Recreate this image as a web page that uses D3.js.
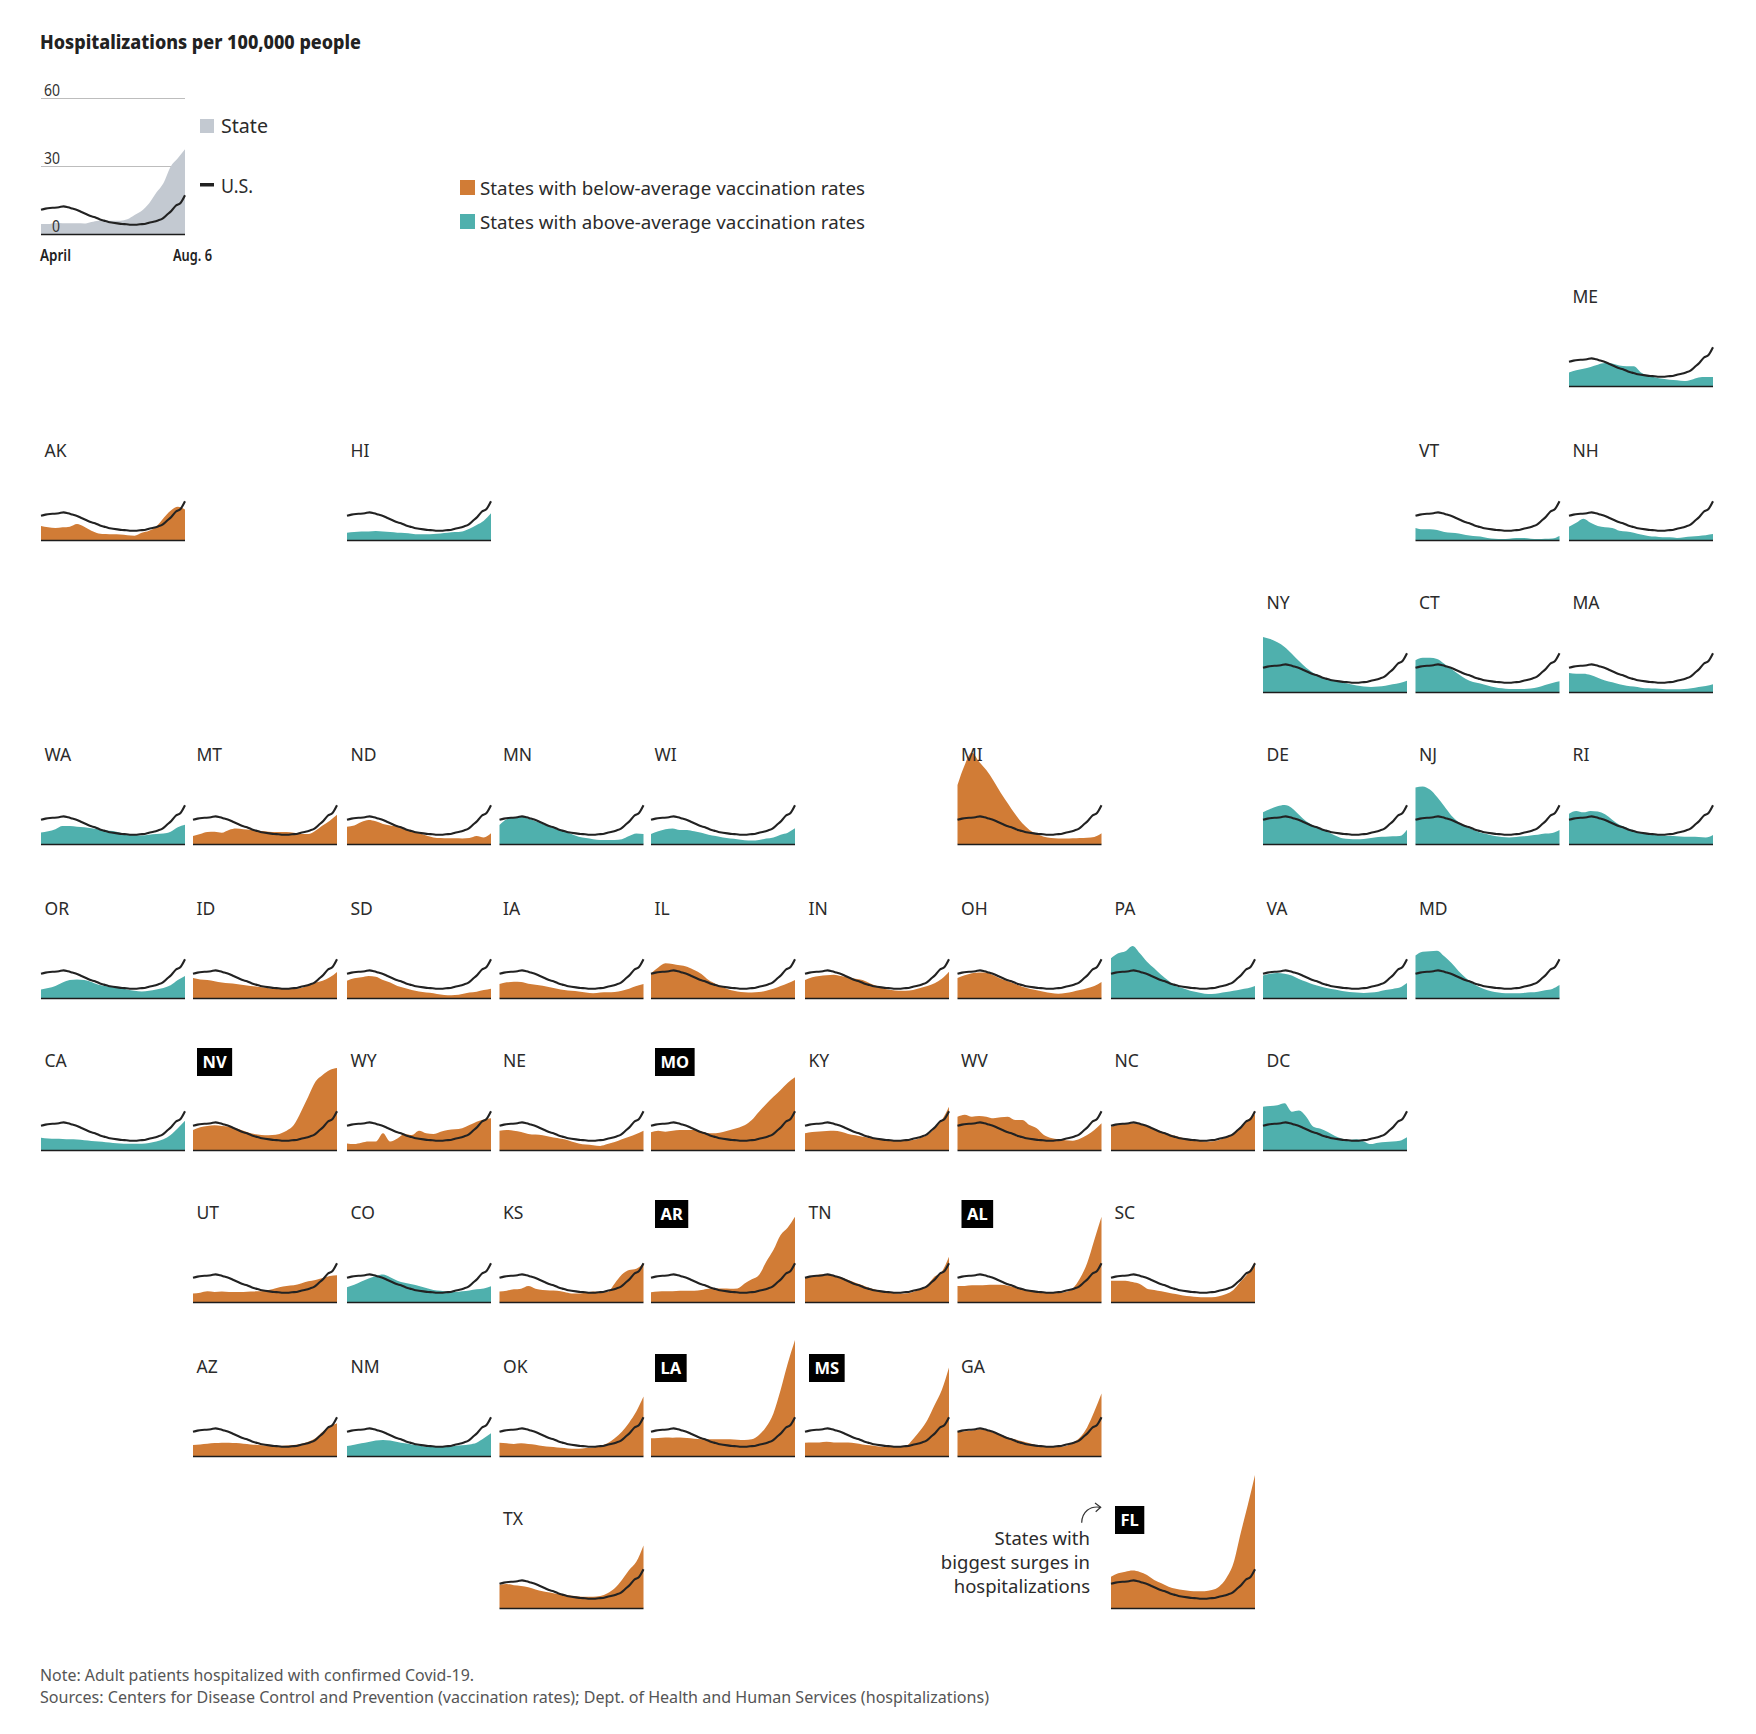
<!DOCTYPE html>
<html><head><meta charset="utf-8">
<script src="https://cdnjs.cloudflare.com/ajax/libs/d3/7.8.5/d3.min.js"></script>
<style>
html,body{margin:0;padding:0;background:#fff}
svg{display:block}
text{font-family:"Noto Sans",sans-serif;fill:#2b2b2b}
</style></head><body>
<svg id="c" width="1756" height="1734"></svg>
<script>
// ---------- DATA (hospitalizations per 100,000) ----------
const US=[10.7,11.2,11.5,11.6,11.8,12.2,11.8,11.2,10.6,9.7,8.8,7.9,7.4,6.5,5.9,5.3,5,4.7,4.4,4.3,4.1,4.1,4.3,4.4,5,5.4,6,6.8,8.5,10.3,12.6,13.7,17.1];
const SAMPLE=[4.4,4.4,5,4.7,4.7,4.7,4.6,5.3,5.9,5.9,5.9,5.9,6.5,8.4,10.3,13.5,18.2,22.4,29.7,33.4,37.4];
const ME=[6,6.9,7.6,8.4,9.4,10.1,9.9,9,8.7,8.7,6,4.4,3.8,3.2,2.8,2.5,2.2,2.8,3.8,4,4];
const AK=[6.2,5.6,5.3,5.6,5.9,7.1,5.9,4.1,2.9,2.6,2.5,2.4,2.1,1.9,3.2,4.1,5.9,9.6,12.9,14.7,13.5];
const HI=[3.2,3.5,3.7,3.7,4,3.7,3.5,3.2,3.1,2.8,2.5,2.5,2.6,2.9,3.2,3.5,3.8,5,6.6,8.5,11.8];
const VT=[5.3,4.7,4.7,4.4,3.5,3.2,2.9,2.2,1.8,1.5,.9,.6,.4,.6,.9,.9,.6,.4,.6,.7,1.8];
const NH=[5.9,7.6,9.4,7.6,6.2,5.6,5.3,4.1,3.8,3.2,2.4,1.8,1.5,1.2,1.2,.9,1.2,1.5,1.8,2.1,2.6];
const NY=[24.3,23.4,21.9,19.9,16.9,13.7,10.7,8.4,6.9,5.7,5,4.3,3.5,2.9,2.4,2.2,2.4,2.8,3.4,4,5];
const CT=[14,15.1,15.1,14.6,12.5,10.1,7.8,5.7,4.4,3.7,2.9,2.1,1.6,1.3,1.3,1.3,1.5,2.1,3.1,4,4.7];
const MA=[8.4,8.1,8.1,7.5,6.3,5.1,4.3,3.4,2.8,2.4,1.9,1.6,1.5,1.3,1.2,1.2,1.3,1.6,2.2,2.6,3.4];
const WA=[5.1,5.6,6.5,7.9,7.9,7.6,7.4,6.9,6.5,6,5.7,5,4.4,4,3.8,4.1,4.4,4.6,5.4,7.4,8.5];
const MT=[3.5,4.4,5.3,5.4,5,6.2,6.8,6.5,6.2,5.9,5.6,5.3,5.3,5.3,5,4.4,4.4,5.9,8.2,10.3,12.9];
const ND=[7.6,8.2,9.7,10.6,10,8.8,8.2,7.6,6.5,5.6,4.7,3.8,2.9,2.6,2.5,2.5,2.4,2.6,3.5,2.9,4.7];
const MN=[8.4,10.9,11.8,12.1,11.2,10,8.8,7.6,6.5,5.6,4.4,3.2,2.6,2.1,1.8,1.8,1.8,2.1,3.5,4.6,4.4];
const WI=[4.4,5.6,6.5,6.8,6.2,6.2,5.6,5,4.1,3.5,2.9,2.4,2.1,1.6,1.5,1.8,2.4,2.9,4.1,5,6.9];
const MI=[26,34.9,40.3,36.3,32.6,27.9,22.6,17.9,13.2,9.1,6.2,4.4,3.2,2.6,2.4,2.4,2.5,2.6,2.8,3.1,4.7];
const DE=[14,15.4,16.6,17.2,15.9,12.9,10,8.1,6.6,5.4,3.7,2.5,2.2,2.1,2.2,2.6,3.1,3.2,3.4,3.5,6.3];
const NJ=[24.9,25.4,24,20.7,16.6,12.5,9.6,7.6,6.3,5.1,4.3,3.5,3.1,2.9,3.1,3.4,3.8,4.1,4.6,4.9,6.2];
const RI=[13.4,14.6,14,14.6,14.3,13.1,10.7,8.5,7.2,6,4.9,4.3,4,3.7,3.5,3.4,3.2,3.2,3.1,2.9,4];
const OR=[3.8,4.4,5.3,6.8,7.9,8.2,7.9,7.1,5.9,5.3,4.7,4.4,3.8,3.2,2.9,3.2,3.8,4.4,5.6,7.9,9.7];
const ID=[8.8,8.2,7.9,7.4,6.8,6.5,6.2,5.7,5.3,5,4.6,4.1,4.1,4,4.1,4.4,5.6,6.8,7.6,9.1,11.5];
const SD=[7.6,8.7,9.1,9.7,9.4,7.9,6.8,5.3,4.4,3.5,2.9,2.4,2.1,1.5,1.2,1.3,1.8,2.4,2.8,3.5,4.1];
const IA=[6.2,6.9,7.2,7.1,6.3,5.9,5.4,4.7,4.1,3.5,3.2,2.9,2.4,2.1,2.4,2.5,2.6,3.2,4.1,5.3,6.2];
const IL=[10.9,13.5,15.3,15,14.4,13.8,12.4,10.6,7.9,6.2,4.7,3.5,2.9,2.5,2.4,2.6,3.2,4.1,5.3,6.5,7.9];
const IN=[7.9,9.1,9.7,10,10.3,9.7,9.1,8.5,7.9,6.5,5.3,4.1,3.5,3.2,3.2,3.5,4.4,5.3,6.5,8.5,11.6];
const OH=[8.8,10,10.9,11.3,11.2,10,8.5,7.4,6.2,5,4.1,3.4,2.8,2.2,1.9,2.2,2.8,3.5,4.3,5.3,7.1];
const PA=[17.5,19.7,20.6,22.9,19.7,16,13.1,10.1,7.6,5.3,4.3,3.2,2.5,1.9,1.8,2.1,2.6,3.2,3.8,4.3,5.3];
const VA=[9.9,10.7,11,10.7,9.9,8.4,7.2,6,5.1,4.3,3.7,3.1,2.6,2.4,2.2,2.4,2.8,3.5,4,4.6,6.6];
const MD=[18.7,20.4,20.6,20.9,18.4,15.4,11.8,8.8,6.3,4.6,3.4,2.6,2.2,2.1,2.1,2.2,2.5,2.8,3.4,4,5.7];
const CA=[5.4,5.1,5,4.9,4.7,4.6,4.3,4,3.7,3.4,3.1,2.9,2.8,2.8,2.8,3.1,3.7,4.7,6.6,9.6,12.9];
const NV=[8.8,10,10.6,10.9,10.6,10.3,9.6,8.5,7.4,6.8,6.5,6.6,7.1,8.5,11,16.9,23.5,30.1,33.1,35.3,36.2];
const WY=[2.9,2.6,3.2,3.7,3.7,7.4,3.7,5.1,7.1,6.6,8.5,7.4,7.1,8.1,8.8,9.1,9.6,11,12.5,13.5,14];
const NE=[8.5,8.8,8.5,7.9,7.1,6.8,6.5,5.9,5.3,4.7,3.8,2.9,2.4,2.1,1.8,2.6,3.5,4.7,5.9,7.1,8.5];
const MO=[7.8,8.5,8.1,8.5,8.8,8.8,8.8,8.2,7.4,7.4,7.9,8.8,9.7,10.9,13.2,16.9,20.3,23.5,26.5,29.7,32.1];
const KY=[7.4,7.9,8.2,8.4,8.5,8.1,7.1,6.5,5.9,5.4,5,4.6,4.3,4.1,4.1,4.4,5.3,6.6,9.6,13.2,19.1];
const WV=[14.7,15.6,14.7,15,14.7,14,14.4,14.7,13.2,13.2,11,9.6,6.6,5.3,4.7,4.3,4.1,5,6.6,8.8,11.8];
const NC=[10.3,11.2,11.8,11.8,11.5,10.6,9.4,8.2,7.1,6.2,5.3,4.7,4.3,3.8,3.8,4.4,5.6,7.4,9.7,13.2,15.9];
const DC=[19.1,19.4,19.7,20.6,16.9,17.4,14.7,10.3,9.4,7.9,6.2,5,4.4,4.7,3.8,2.6,3.2,3.5,3.8,4.1,5.6];
const UT=[3.8,4.1,4.7,4.4,4.6,4.4,4.4,4.4,4.6,4.7,5,5.6,6.5,7.1,7.4,8.2,9.1,9.7,10.6,11.5,11.8];
const CO=[6.5,7.6,9,10.4,11.5,12.1,10.9,9.4,8.5,7.8,7.1,6.2,5.3,5,4.6,4.4,4.7,5.1,5.6,6,6.9];
const KS=[4.6,5,5.6,5.9,7.1,5.9,5.3,5.1,5,4.4,3.8,3.8,4.1,4.6,4.3,4.4,8.2,12.1,14.1,14.7,17.1];
const AR=[4.3,4.6,4.7,4.7,5,5,5,5.3,5.9,6,6,5.9,6,8.2,10,11.9,17.8,22.9,29.6,32.9,37.6];
const TN=[10.9,11.5,12.1,12.4,11.5,10.9,9.7,8.5,7.4,6.2,5.3,4.6,4.1,3.8,3.8,4.4,5.6,7.5,11.2,13.4,20];
const AL=[7.1,7.1,7.4,7.4,7.5,7.6,7.6,7.2,6.5,5.6,5,4.6,4.3,4,4,4.4,6,10.4,17.1,27.4,37.6];
const SC=[9.4,9.4,9.4,8.8,7.9,5.9,5.3,4.7,4.1,3.5,2.9,2.5,2.2,2.1,2.1,2.5,3.5,5.3,9,12.6,17.6];
const AZ=[4.9,5.1,5.4,5.7,5.9,5.9,5.7,5.4,5.1,4.9,4.6,4.4,4.4,4.6,4.9,5.3,6.3,7.8,10.7,12.9,14.4];
const NM=[4.4,5,5.6,6.2,6.8,7.1,6.8,6.2,5.6,5.1,4.6,4.1,4,4,4.1,4.4,4.7,5.1,5.9,7.8,10];
const OK=[5.9,5.6,5.3,5.6,5.3,5,4.4,4.1,3.8,3.5,3.2,3.2,3.5,3.8,4.4,5.6,7.8,10.7,14.7,19.6,26.2];
const LA=[7.8,7.9,8.2,8.1,8.2,7.9,7.6,7.4,7.4,7.4,7.4,7.4,7.2,7.1,7.4,9.3,12.9,18.8,29.1,40.9,51.2];
const MS=[5.9,6,6,6.3,6,6,6,5.6,5.1,4.7,4.3,4,4,4,4.4,7.4,11.2,15.9,22.5,29.1,39];
const GA=[10.7,10.9,11.2,11.8,11.5,10.3,9.4,8.2,7.4,6.5,5.6,4.7,4.3,4,4,4.4,5.9,8.2,12.6,19.6,27.6];
const TX=[10.3,10.6,10,9.7,9.1,8.2,7.4,6.8,6.2,5.7,5.4,5.1,5,5,5.3,6.5,8.7,12.4,16.8,20.4,27.6];
const FL=[13.8,15.3,16,16.5,15.9,14.6,12.4,10.9,9.4,8.5,7.9,7.5,7.4,7.4,7.9,9.4,13.1,19.7,32.9,45.4,58.7];

const aboveAverage=["ME","HI","VT","NH","NY","CT","MA","WA","MN","WI","DE","NJ","RI","OR","PA","VA","MD","CA","DC","CO","NM"];
const biggestSurges=["NV","MO","AR","AL","LA","MS","FL"];
const tileRows=[
 [["ME",ME,10]],
 [["AK",AK,0],["HI",HI,2],["VT",VT,9],["NH",NH,10]],
 [["NY",NY,8],["CT",CT,9],["MA",MA,10]],
 [["WA",WA,0],["MT",MT,1],["ND",ND,2],["MN",MN,3],["WI",WI,4],["MI",MI,6],["DE",DE,8],["NJ",NJ,9],["RI",RI,10]],
 [["OR",OR,0],["ID",ID,1],["SD",SD,2],["IA",IA,3],["IL",IL,4],["IN",IN,5],["OH",OH,6],["PA",PA,7],["VA",VA,8],["MD",MD,9]],
 [["CA",CA,0],["NV",NV,1],["WY",WY,2],["NE",NE,3],["MO",MO,4],["KY",KY,5],["WV",WV,6],["NC",NC,7],["DC",DC,8]],
 [["UT",UT,1],["CO",CO,2],["KS",KS,3],["AR",AR,4],["TN",TN,5],["AL",AL,6],["SC",SC,7]],
 [["AZ",AZ,1],["NM",NM,2],["OK",OK,3],["LA",LA,4],["MS",MS,5],["GA",GA,6]],
 [["TX",TX,3],["FL",FL,7]]
];
const yTicks=[0,30,60];
const dayMax=128;

// ---------- LAYOUT ----------
const colLeft=[41,193,347,499.5,651,805,957.5,1111,1263,1415.5,1569];
const rowBase=[386,540,692,844,998,1150,1302,1456,1608];
const W=144, pxPer30=68;
const ORANGE="#d17c36", TEAL="#4fb0ad", GRAY="#c3c9d1", INK="#222";

const svg=d3.select("#c");
const x=d3.scaleLinear().domain([0,dayMax]).range([0,W]);
const y=d3.scaleLinear().domain([0,30]).range([0,-pxPer30]);
const dayOf=(i,a)=>i*dayMax/(a.length-1);
const area=d3.area().x((d,i,a)=>x(dayOf(i,a))).y0(y(0)).y1(d=>y(d)).curve(d3.curveMonotoneX);
const line=d3.line().x((d,i,a)=>x(dayOf(i,a))).y(d=>y(d)).curve(d3.curveMonotoneX);

function panel(g,values,color){
  g.append("path").attr("d",area(values)).attr("fill",color);
  g.append("line").attr("x1",x(0)).attr("x2",x(dayMax)).attr("y1",0.5).attr("y2",0.5)
    .attr("stroke","#1c1c1c").attr("stroke-width",1.5);
  g.append("path").attr("d",line(US)).attr("fill","none").attr("stroke",INK)
    .attr("stroke-width",2.1).attr("stroke-linejoin","round");
}
function txt(sel,s,xp,yp,size,opt={}){
  const t=sel.append("text").attr("x",xp).attr("y",yp).attr("font-size",size).text(s);
  if(opt.weight)t.attr("font-weight",opt.weight);
  if(opt.anchor)t.attr("text-anchor",opt.anchor);
  if(opt.fill)t.style("fill",opt.fill);
  if(opt.len)t.attr("textLength",opt.len).attr("lengthAdjust","spacingAndGlyphs");
  return t;
}

// Title
txt(svg,"Hospitalizations per 100,000 people",40,49,19,{weight:800,len:321,fill:"#222"});

// Sample panel
const ins=svg.append("g").attr("transform","translate(41,234)");
const yAxis=d3.axisLeft(y).tickValues(yTicks.slice(1)).tickSize(-W).tickFormat("");
ins.append("g").call(yAxis).call(g=>g.select(".domain").remove())
   .call(g=>g.selectAll(".tick line").attr("stroke","#bdbdbd").attr("stroke-width",1));
panel(ins,SAMPLE,GRAY);
yTicks.forEach(v=>txt(ins,String(v),19,y(v)-2,16,{anchor:"end",len:v?16:8,fill:"#333"}));
txt(svg,"April",40,261,16,{weight:600,len:31,fill:"#222"});
txt(svg,"Aug. 6",173,261,16,{weight:600,len:39,fill:"#222"});

// Key
svg.append("rect").attr("x",200).attr("y",119).attr("width",14).attr("height",14).attr("fill",GRAY);
txt(svg,"State",221,132.5,19,{len:47});
svg.append("rect").attr("x",200).attr("y",183).attr("width",14).attr("height",3.5).attr("fill",INK);
txt(svg,"U.S.",221,192.5,19,{len:32});

svg.append("rect").attr("x",460).attr("y",180).attr("width",15).attr("height",15).attr("fill",ORANGE);
txt(svg,"States with below-average vaccination rates",480,194.5,18.5,{len:385});
svg.append("rect").attr("x",460).attr("y",214).attr("width",15).attr("height",15).attr("fill",TEAL);
txt(svg,"States with above-average vaccination rates",480,228.5,18.5,{len:385});

// Tiles
tileRows.forEach((row,r)=>row.forEach(([name,vals,c])=>{
  const g=svg.append("g").attr("transform",`translate(${colLeft[c]},${rowBase[r]})`);
  panel(g,vals,aboveAverage.includes(name)?TEAL:ORANGE);
  if(biggestSurges.includes(name)){
    const b=g.append("rect").attr("x",4).attr("y",-102).attr("height",28).attr("fill","#000");
    const t=txt(g,name,9.5,-82.5,16.5,{weight:700,fill:"#fff"});
    b.attr("width",t.node().getComputedTextLength()+11);
  } else {
    txt(g,name,3.5,-83,17.5,{fill:"#2b2b2b"});
  }
}));

// Annotation
["States with","biggest surges in","hospitalizations"].forEach((s,i)=>
  txt(svg,s,1090,[1545,1569,1593][i],18.5,{anchor:"end"}));
svg.append("path").attr("d","M1081.7,1522.7C1082,1512 1090,1505.5 1100.5,1507.3")
  .attr("fill","none").attr("stroke","#333").attr("stroke-width",1.2);
svg.append("path").attr("d","M1095,1503L1100.7,1507.3L1095.7,1511.7")
  .attr("fill","none").attr("stroke","#333").attr("stroke-width",1.2);

// Footer
txt(svg,"Note: Adult patients hospitalized with confirmed Covid-19.",40,1680.5,16.5,{len:434,fill:"#555"});
txt(svg,"Sources: Centers for Disease Control and Prevention (vaccination rates); Dept. of Health and Human Services (hospitalizations)",40,1702.5,16.5,{len:949,fill:"#555"});
</script></body></html>
